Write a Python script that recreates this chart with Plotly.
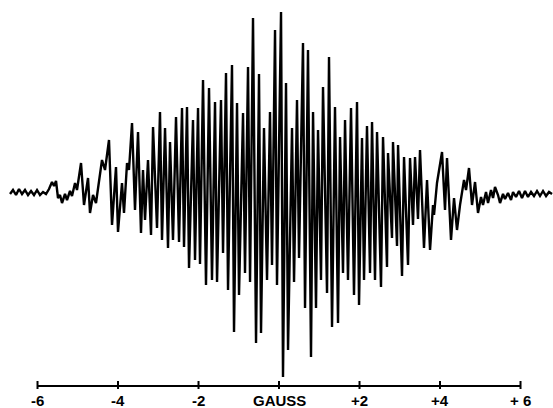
import plotly.graph_objects as go

# Field offset (gauss) of successive extrema of the derivative trace
field_g = [
    -6.683, -6.609, -6.534, -6.460, -6.385, -6.311, -6.236, -6.161, -6.087, -6.012,
    -5.938, -5.863, -5.789, -5.714, -5.640, -5.590, -5.540, -5.491, -5.441, -5.391,
    -5.317, -5.267, -5.193, -5.143, -5.068, -5.019, -4.919, -4.845, -4.745, -4.696,
    -4.621, -4.547, -4.398, -4.323, -4.224, -4.149, -4.050, -4.000, -3.901, -3.851,
    -3.776, -3.727, -3.652, -3.578, -3.503, -3.429, -3.379, -3.329, -3.255, -3.180,
    -3.130, -3.031, -2.957, -2.907, -2.832, -2.758, -2.708, -2.634, -2.559, -2.484,
    -2.410, -2.360, -2.286, -2.236, -2.137, -2.087, -2.012, -1.963, -1.888, -1.814,
    -1.739, -1.665, -1.590, -1.540, -1.441, -1.391, -1.317, -1.267, -1.168, -1.118,
    -1.043, -0.994, -0.894, -0.845, -0.770, -0.720, -0.646, -0.571, -0.497, -0.447,
    -0.373, -0.298, -0.224, -0.174, -0.099, -0.050, 0.050, 0.099, 0.174, 0.224,
    0.323, 0.373, 0.447, 0.497, 0.596, 0.646, 0.720, 0.795, 0.845, 0.919,
    0.969, 1.043, 1.093, 1.193, 1.242, 1.317, 1.391, 1.466, 1.516, 1.590,
    1.640, 1.714, 1.789, 1.863, 1.938, 1.988, 2.062, 2.112, 2.186, 2.261,
    2.311, 2.385, 2.435, 2.534, 2.584, 2.683, 2.708, 2.807, 2.832, 2.932,
    2.957, 3.056, 3.106, 3.205, 3.255, 3.329, 3.379, 3.453, 3.503, 3.602,
    3.677, 3.752, 3.826, 3.851, 3.925, 4.050, 4.124, 4.174, 4.273, 4.348,
    4.422, 4.497, 4.596, 4.646, 4.720, 4.795, 4.870, 4.944, 5.019, 5.068,
    5.143, 5.193, 5.267, 5.317, 5.366, 5.441, 5.491, 5.565, 5.615, 5.689,
    5.764, 5.814, 5.888, 5.963, 6.037, 6.112, 6.186, 6.261, 6.335, 6.410,
    6.484, 6.559, 6.634, 6.708, 6.783,
]

# Derivative signal (arbitrary units, baseline = 0) at those extrema
signal = [
    -2, 2, -3, 3, -2, 2, -3, 1, -3, 2,
    -3, 0, -2, 3, 10, 6, 11, -6, -3, -11,
    -2, -8, 1, -4, 9, 2, 29, -13, 14, -21,
    -3, -11, 32, 22, 52, -33, 25, -40, 9, -21,
    29, 22, 69, -18, 60, -41, 22, -28, 32, -43,
    65, -36, 80, -48, 64, -56, 50, -48, 75, -50,
    84, -55, 85, -76, 72, -68, 84, -72, 112, -93,
    104, -88, 90, -90, 92, -61, 119, -98, 127, -140,
    89, -103, 79, -81, 125, -90, 174, -151, 118, -141,
    64, -88, 80, -73, 162, -93, 180, -185, 109, -158,
    64, -90, 92, -66, 149, -116, 142, -165, 80, -116,
    62, -88, 105, -101, 135, -135, 85, -131, 55, -81,
    72, -88, 84, -103, 90, -113, 54, -88, 66, -81,
    70, -88, 60, -95, 55, -75, 39, -46, 50, -54,
    47, -84, 35, -73, 34, -33, 35, -27, 42, -56,
    12, -58, -13, -23, 9, 40, -18, 34, -48, -6,
    -38, -13, 12, 2, 24, -13, 10, -21, -5, -13,
    0, -11, 2, -6, 5, -3, -11, -2, -7, -1,
    -8, 0, -5, 1, -6, 1, -5, 0, -4, 1,
    -4, 1, -4, 0, -2,
]

# Scale
tick_vals = [-6, -4, -2, 0, 2, 4, 6]
tick_text = ["-6", "-4", "-2", "GAUSS", "+2", "+4", "+ 6"]
axis_level = -194

fig = go.Figure()
fig.add_trace(go.Scatter(
    x=field_g, y=signal, mode="lines",
    line=dict(color="black", width=2.4),
    hoverinfo="skip", showlegend=False,
))

# Field scale drawn beneath the spectrum
fig.add_shape(type="line", x0=tick_vals[0], x1=tick_vals[-1], y0=axis_level, y1=axis_level,
              line=dict(color="black", width=2), xref="x", yref="y")
for tv in tick_vals:
    fig.add_shape(type="line", x0=tv, x1=tv, y0=axis_level - 3, y1=axis_level + 5,
                  line=dict(color="black", width=2), xref="x", yref="y")
for tv, tt in zip(tick_vals, tick_text):
    fig.add_annotation(x=tv, y=axis_level - 14, text="<b>" + tt + "</b>", showarrow=False,
                       xref="x", yref="y", yanchor="middle",
                       font=dict(family="Liberation Sans", size=15, color="black"))

fig.update_layout(
    width=553, height=408, autosize=False,
    margin=dict(l=0, r=0, t=0, b=0),
    paper_bgcolor="white", plot_bgcolor="white",
    xaxis=dict(range=[-6.932, 6.807], visible=False, fixedrange=True),
    yaxis=dict(range=[-216, 192], visible=False, fixedrange=True),
)

fig.write_html(
    "out.html",
    config={"displayModeBar": False, "staticPlot": True},
    post_script="document.body.style.margin='0';document.body.style.overflow='hidden';",
)
